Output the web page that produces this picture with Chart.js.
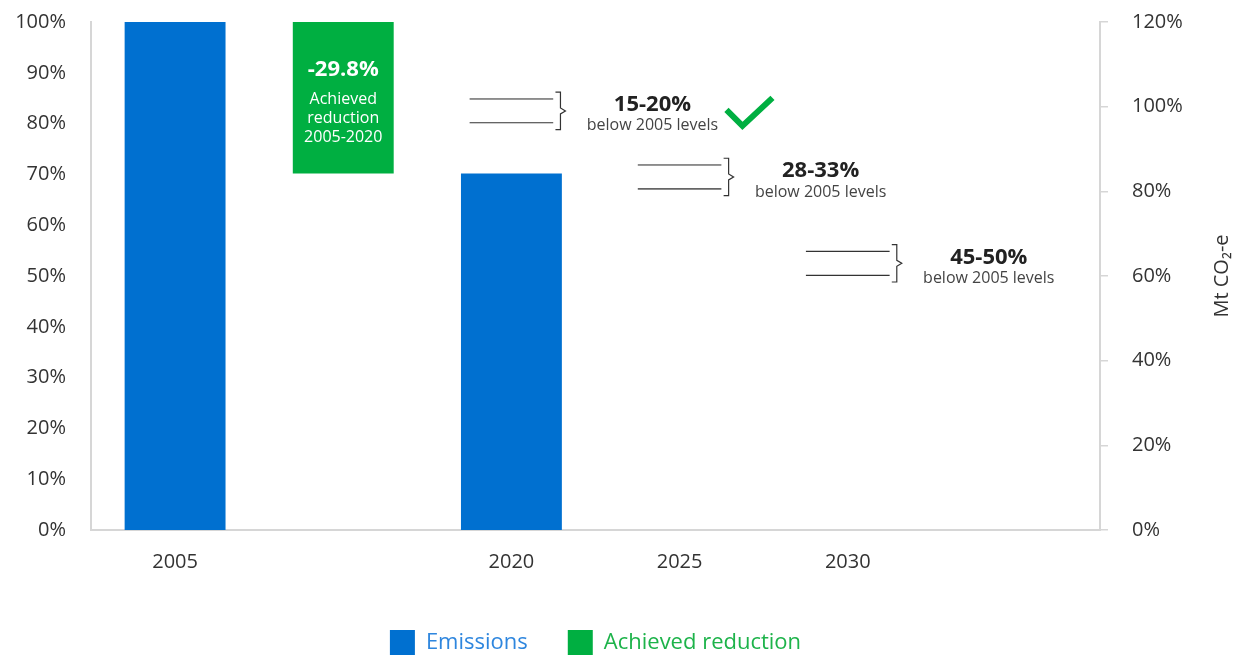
<!DOCTYPE html>
<html><head><meta charset="utf-8">
<script src="https://cdn.jsdelivr.net/npm/chart.js@4"></script>
<style>html,body{margin:0;padding:0;background:#fff}#wrap{width:1236px;height:655px}</style>
</head><body><div id="wrap"><canvas id="c" width="1236" height="655"></canvas></div>
<script>
const categories = ['2005', '', '2020', '2025', '2030', ''];
const emissions = [100, null, 70.2, null, null, null];
const achievedReduction = [null, [70.2, 100], null, null, null, null];
const targetRanges = [null, null, [80, 85], [67, 72], [50, 55], null];
const targetLabels = [null, null, '15-20%', '28-33%', '45-50%', null];
const targetSubLabel = 'below 2005 levels';
const targetMet = [false, false, true, false, false, false];
const reductionLabel = '-29.8%';
const reductionText = ['Achieved', 'reduction', '2005-2020'];
const leftAxis = { min: 0, max: 100, step: 10 };
const rightAxis = { min: 0, max: 120, step: 20 };
const rightAxisTitle = 'Mt CO\u2082-e';

const FONT = "'Open Sans', sans-serif";
const BLUE = '#0070D0';
const GREEN = '#00AF41';

const annot = {
  id: 'annot',
  afterLayout(chart) {
    const lg = chart.legend, ca = chart.chartArea;
    lg.top += 10;
    lg.bottom += 10;
    lg.left = ca.left;
    lg.right = ca.right;
  },
  afterDatasetsDraw(chart) {
    const ctx = chart.ctx;
    ctx.save();
    // green box text
    const gMeta = chart.getDatasetMeta(1);
    achievedReduction.forEach((v, i) => {
      if (!v) return;
      const el = gMeta.data[i];
      ctx.fillStyle = '#fff';
      ctx.textAlign = 'center';
      ctx.textBaseline = 'middle';
      ctx.font = "bold 22px " + FONT;
      ctx.fillText(reductionLabel, el.x, el.y + 48);
      ctx.font = "16px " + FONT;
      reductionText.forEach((t, k) => ctx.fillText(t, el.x, el.y + 77 + k * 19));
    });
    // targets
    const tMeta = chart.getDatasetMeta(2);
    targetRanges.forEach((v, i) => {
      if (!v) return;
      const el = tMeta.data[i];
      const right = el.x + el.width / 2;
      const top = Math.min(el.y, el.base), bot = Math.max(el.y, el.base);
      const mid = (top + bot) / 2;
      const x0 = right + 2, x1 = right + 7, tip = right + 12;
      ctx.strokeStyle = '#333';
      ctx.lineWidth = 1.2;
      ctx.beginPath();
      ctx.moveTo(x0, top - 6); ctx.lineTo(x1, top - 6); ctx.lineTo(x1, mid - 3);
      ctx.lineTo(tip, mid); ctx.lineTo(x1, mid + 3); ctx.lineTo(x1, bot + 6); ctx.lineTo(x0, bot + 6);
      ctx.stroke();
      const cx = tip + 87;
      ctx.textAlign = 'center';
      ctx.textBaseline = 'middle';
      ctx.fillStyle = '#222';
      ctx.font = "bold 22px " + FONT;
      ctx.fillText(targetLabels[i], cx, mid - 6);
      ctx.fillStyle = '#444';
      ctx.font = "16px " + FONT;
      ctx.fillText(targetSubLabel, cx, mid + 15);
      if (targetMet[i]) {
        ctx.strokeStyle = GREEN;
        ctx.lineWidth = 6;
        ctx.lineCap = 'butt';
        ctx.lineJoin = 'miter';
        ctx.beginPath();
        ctx.moveTo(cx + 74, mid - 1);
        ctx.lineTo(cx + 90, mid + 15);
        ctx.lineTo(cx + 120, mid - 13);
        ctx.stroke();
      }
    });
    // right axis title, reading bottom to top
    const ca = chart.chartArea;
    ctx.translate(1222, (ca.top + ca.bottom) / 2);
    ctx.rotate(-Math.PI / 2);
    ctx.fillStyle = '#333';
    ctx.font = "20px " + FONT;
    ctx.textAlign = 'center';
    ctx.textBaseline = 'middle';
    ctx.fillText(rightAxisTitle, 0, 0);
    ctx.restore();
  }
};

new Chart(document.getElementById('c'), {
  type: 'bar',
  data: {
    labels: categories,
    datasets: [
      { label: 'Emissions', data: emissions, backgroundColor: BLUE, borderWidth: 0,
        grouped: false, categoryPercentage: 1, barPercentage: 0.6, yAxisID: 'y' },
      { label: 'Achieved reduction', data: achievedReduction, backgroundColor: GREEN, borderWidth: 0,
        grouped: false, categoryPercentage: 1, barPercentage: 0.6, yAxisID: 'y' },
      { label: 'Targets', data: targetRanges, backgroundColor: 'rgba(0,0,0,0)', borderColor: '#333',
        borderWidth: { top: 1.3, bottom: 1.3, left: 0, right: 0 }, borderSkipped: false,
        grouped: false, categoryPercentage: 1, barPercentage: 0.5, yAxisID: 'y' }
    ]
  },
  options: {
    responsive: false,
    animation: false,
    devicePixelRatio: 1,
    layout: { padding: { top: 22, left: 0, right: 0, bottom: 0 } },
    plugins: {
      tooltip: { enabled: false },
      legend: {
        position: 'bottom',
        labels: {
          boxWidth: 25, boxHeight: 25, padding: 40,
          font: { family: FONT, size: 22 },
          filter: (item) => item.datasetIndex < 2,
          generateLabels(chart) {
            const items = Chart.defaults.plugins.legend.labels.generateLabels(chart);
            const cols = ['#2E86DE', '#1DB34A', '#333'];
            items.forEach(it => { it.fontColor = cols[it.datasetIndex]; it.lineWidth = 0; });
            return items;
          }
        }
      }
    },
    scales: {
      x: {
        grid: { display: false, drawTicks: false },
        border: { display: true, color: '#d6d6d6', width: 2 },
        ticks: { font: { family: FONT, size: 20 }, color: '#333', padding: 20 },
        afterFit(s) { s.height = 50; }
      },
      y: {
        position: 'left',
        min: leftAxis.min, max: leftAxis.max,
        grid: { display: false, drawTicks: false },
        border: { display: true, color: '#d6d6d6', width: 2 },
        ticks: { stepSize: leftAxis.step, callback: v => v + '%', font: { family: FONT, size: 20 }, color: '#333', padding: 25 },
        afterFit(s) { s.width = 91; s.paddingTop = 0; s.paddingBottom = 0; }
      },
      y1: {
        position: 'right',
        min: rightAxis.min, max: rightAxis.max,
        grid: { drawOnChartArea: false, color: '#d6d6d6', tickLength: 8, lineWidth: 1.5 },
        border: { display: true, color: '#d6d6d6', width: 2 },
        ticks: { stepSize: rightAxis.step, callback: v => v + '%', font: { family: FONT, size: 20 }, color: '#333', padding: 24 },
        afterFit(s) { s.width = 136; s.paddingTop = 0; s.paddingBottom = 0; }
      }
    }
  },
  plugins: [annot]
});
</script>
</body></html>
